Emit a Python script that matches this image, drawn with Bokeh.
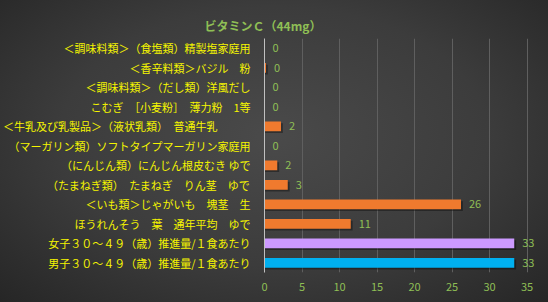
from bokeh.plotting import figure
from bokeh.models import ColumnDataSource, Range1d, FixedTicker, FactorRange
from bokeh.transform import dodge
from bokeh.core.properties import value
from bokeh.embed import file_html
from bokeh.resources import INLINE

# categories listed top to bottom
categories = [
    "＜調味料類＞（食塩類）精製塩家庭用",
    "＜香辛料類＞バジル　粉",
    "＜調味料類＞（だし類）洋風だし",
    "こむぎ　［小麦粉］　薄力粉　1等",
    "＜牛乳及び乳製品＞（液状乳類）　普通牛乳　　　",
    "（マーガリン類）ソフトタイプマーガリン家庭用",
    "（にんじん類）にんじん根皮むき ゆで",
    "（たまねぎ類）　たまねぎ　りん茎　ゆで",
    "＜いも類＞じゃがいも　塊茎　生",
    "ほうれんそう　葉　通年平均　ゆで",
    "女子３０～４９（歳）推進量/１食あたり",
    "男子３０～４９（歳）推進量/１食あたり",
]
values = [0.0, 0.2, 0.0, 0.0, 2.2, 0.0, 1.7, 3.1, 26.2, 11.5, 33.3, 33.3]
value_labels = ["0", "0", "0", "0", "2", "0", "2", "3", "26", "11", "33", "33"]
bar_colors = ["#f07a2e"] * 10 + ["#cc99ff", "#00b0f0"]
x_ticks = [0, 5, 10, 15, 20, 25, 30, 35]

CJK = "Noto Sans CJK JP"
GREEN = "#8fbf55"
YELLOW = "#f5f500"

src = ColumnDataSource(dict(cat=categories, val=values, lab=value_labels,
                            col=bar_colors,
                            shadow=[v + 0.25 if v > 0 else 0 for v in values]))

p = figure(width=548, height=302, output_backend="svg", toolbar_location=None,
           y_range=FactorRange(*list(reversed(categories)), range_padding=0),
           x_range=Range1d(0, 37.6),
           min_border_left=263, min_border_right=2, min_border_top=38,
           min_border_bottom=30)

p.styles = {"background": "radial-gradient(ellipse at 50% 45%, #4a4a4a 0%, #3c3c3c 55%, #262626 100%)"}
p.background_fill_alpha = 0
p.border_fill_alpha = 0
p.outline_line_color = None

p.title.text = "ビタミンＣ（44mg）"
p.title.align = "left"
p.title.text_color = GREEN
p.title.text_font = CJK
p.title.text_font_size = "12px"
p.title.text_font_style = "bold"
p.title.offset = -60

p.hbar(y=dodge("cat", -0.1, range=p.y_range), left=0, right="shadow", height=0.5,
       source=src, fill_color="black", fill_alpha=0.35, line_color=None)
p.hbar(y="cat", left=0, right="val", height=0.5, source=src,
       fill_color="col", line_color=None)

p.text(x="val", y="cat", text="lab", source=src, x_offset=8,
       text_baseline="middle", text_align="left", text_color=GREEN,
       text_font=value(CJK), text_font_size="11px")

p.xaxis.ticker = FixedTicker(ticks=x_ticks)
p.xaxis.axis_line_color = None
p.xaxis.major_tick_line_color = None
p.xaxis.minor_tick_line_color = None
p.xaxis.major_label_text_color = GREEN
p.xaxis.major_label_text_font = CJK
p.xaxis.major_label_text_font_size = "11px"
p.xaxis.major_label_standoff = 4

p.yaxis.axis_line_color = "#c0c0c0"
p.yaxis.major_tick_line_color = None
p.yaxis.minor_tick_line_color = None
p.yaxis.major_label_text_color = YELLOW
p.yaxis.major_label_text_font = CJK
p.yaxis.major_label_text_font_size = "11px"
p.yaxis.major_label_standoff = 8

p.xgrid.grid_line_color = "#5f5f5f"
p.ygrid.grid_line_color = None

open("out.html", "w").write(file_html(p, INLINE))
